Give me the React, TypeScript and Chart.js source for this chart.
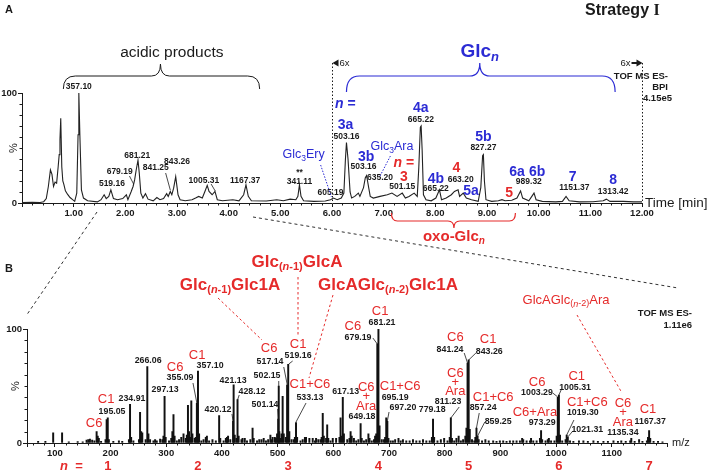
import React, { useEffect, useRef } from 'react';
import { Chart, registerables } from 'chart.js';

Chart.register(...registerables);

const SANS = '"Liberation Sans", Arial, Helvetica, sans-serif';
const SERIF = '"Liberation Serif", "Times New Roman", serif';
const BLUE = '#2b2bd4';
const RED = '#e52a2a';
const INK = '#1a1a1a';
const W = 708;
const H = 474;

const fnt = (size: number, bold = false, italic = false, fam = SANS) =>
  `${italic ? 'italic ' : ''}${bold ? 'bold ' : ''}${size}px ${fam}`;

// ---------------- Panel A : base peak chromatogram ----------------
const chromTime = [
  0, 0.2, 0.35, 0.42, 0.47, 0.51, 0.55, 0.58, 0.61, 0.64, 0.67, 0.7, 0.72, 0.735, 0.75, 0.77, 0.79, 0.81,
  0.84, 0.88, 0.93, 0.98, 1.02, 1.06, 1.085, 1.1, 1.12, 1.15, 1.19, 1.27, 1.46, 1.53, 1.59, 1.63, 1.68,
  1.72, 1.77, 1.85, 1.95, 2.02, 2.05, 2.11, 2.15, 2.18, 2.21, 2.245, 2.27, 2.3, 2.34, 2.39, 2.44, 2.54,
  2.61, 2.67, 2.74, 2.8, 2.83, 2.87, 2.9, 2.935, 2.975, 3.02, 3.06, 3.16, 3.29, 3.36, 3.42, 3.49, 3.54,
  3.585, 3.62, 3.68, 3.735, 3.78, 3.88, 4.08, 4.2, 4.29, 4.335, 4.38, 4.44, 4.73, 4.93, 5.06, 5.19, 5.3,
  5.34, 5.37, 5.4, 5.45, 5.65, 5.87, 5.97, 6.03, 6.1, 6.18, 6.23, 6.26, 6.28, 6.31, 6.35, 6.38, 6.44,
  6.51, 6.54, 6.61, 6.645, 6.67, 6.71, 6.74, 6.8, 6.93, 7.07, 7.16, 7.26, 7.36, 7.42, 7.49, 7.59, 7.65,
  7.68, 7.71, 7.725, 7.745, 7.77, 7.82, 7.92, 8.01, 8.08, 8.12, 8.21, 8.31, 8.37, 8.44, 8.47, 8.54, 8.6,
  8.7, 8.83, 8.88, 8.915, 8.93, 8.95, 8.98, 9.09, 9.22, 9.29, 9.35, 9.48, 9.58, 9.65, 9.69, 9.81, 9.91,
  9.95, 10.07, 10.33, 10.46, 10.53, 10.59, 10.79, 11.05, 11.25, 11.31, 11.38, 11.64, 11.84, 12,
];
const chromIntensity = [
  0.5, 0.6, 0.5, 1.2, 4, 15, 30, 26, 15, 19, 18, 33, 44, 58, 77, 33, 20, 17,
  11, 8, 5, 3, 1.5, 9, 62, 100, 62, 12, 4.5, 2, 1, 3, 7.5, 4, 6,
  12, 4, 3, 4, 7.5, 3, 10, 15, 21, 30, 39, 27, 9, 4.5, 8.5, 3.5, 2,
  5, 3, 4, 8.5, 6, 10.5, 7.5, 13.5, 24, 7.5, 3, 2, 3, 4.5, 6, 4.5, 10.5,
  16, 10.5, 7.5, 10.5, 3, 2, 3, 2, 7.5, 16.5, 6, 2, 1.8, 3, 2, 3.5, 3,
  6, 16.5, 6, 2, 1.5, 1.8, 3, 4.5, 3, 4.5, 9, 40, 55, 40, 10, 4.5, 6,
  9, 6, 14, 23, 25, 14, 6, 4.5, 6, 7.5, 9, 6, 9, 4.5, 6, 9, 6,
  32, 69, 70, 48, 7.5, 3, 2, 4.5, 12, 3, 4.5, 7.5, 10.5, 12, 6, 9, 4.5,
  3, 1.5, 14, 43, 44, 20, 3, 1.5, 2, 3, 2, 2.5, 4.5, 11, 4.5, 2, 9,
  3, 1.5, 1, 1.5, 6, 2, 1, 1.2, 2, 3.5, 1.5, 1.5, 1, 1,
];

// ---------------- Panel B : mass spectrum ----------------
const specMz = [
  70, 83, 97, 113, 125, 141, 150, 157, 160, 163, 167, 171, 175, 177, 179, 183, 191, 193, 195, 197, 205,
  215, 221, 233, 235, 237, 241, 251, 253, 255, 257, 263, 266, 268, 271, 277, 280, 283, 289, 293, 295,
  297, 299, 305, 309, 311, 313, 315, 319, 323, 327, 331, 335, 337, 339, 341, 343, 345, 347, 351, 353,
  355, 357, 359, 363, 367, 371, 373, 377, 383, 389, 395, 397, 403, 407, 409, 411, 415, 420, 421, 423,
  426, 428, 430, 435, 437, 441, 445, 451, 455, 457, 463, 467, 471, 475, 479, 483, 487, 489, 491, 495,
  497, 499, 501, 502, 503, 505, 507, 509, 511, 515, 517, 519, 521, 525, 529, 531, 533, 535, 541, 545,
  549, 551, 557, 563, 567, 569, 573, 577, 579, 581, 583, 587, 589, 591, 595, 599, 605, 611, 613, 615,
  617, 619, 625, 629, 631, 633, 637, 641, 645, 649, 651, 655, 659, 663, 665, 669, 673, 675, 677, 679,
  681, 683, 687, 691, 693, 695, 697, 699, 703, 707, 711, 717, 721, 725, 731, 737, 743, 749, 755, 761,
  767, 773, 777, 779, 781, 787, 793, 799, 805, 809, 811, 813, 817, 821, 825, 829, 833, 837, 839, 841,
  843, 845, 849, 853, 855, 857, 859, 861, 867, 873, 879, 887, 893, 899, 905, 911, 917, 923, 929, 935,
  939, 941, 947, 953, 955, 959, 965, 971, 973, 975, 981, 985, 987, 991, 997, 1001, 1003, 1005, 1007,
  1011, 1017, 1019, 1021, 1025, 1031, 1041, 1049, 1057, 1067, 1075, 1085, 1093, 1103, 1111, 1117,
  1125, 1133, 1135, 1141, 1149, 1155, 1163, 1165, 1167, 1169, 1175, 1183, 1191,
];
const specIntensity = [
  1.5, 1.5, 9, 9, 1, 1.2, 1, 2.5, 3, 3.5, 2.5, 2, 10, 6, 4, 1.5, 3, 20.5, 22, 3, 1.5,
  2, 1.5, 3, 34, 5, 2, 3, 27, 10, 9, 3, 67, 8, 3, 2, 3, 2, 3.5, 3, 6,
  41, 5, 2, 4, 10, 25, 6, 2, 3, 5, 8, 4, 7, 33, 10, 5, 37, 8, 4, 5,
  35, 63, 8, 2, 3, 5, 6, 2, 3, 2, 24, 4, 2, 4, 5, 6, 3, 19, 51, 7,
  4, 38, 6, 3, 4, 4, 2, 3, 13, 4, 2, 3, 3, 4, 2, 3, 7, 3, 5, 5,
  4, 8, 21, 50, 10, 4, 8, 41, 8, 5, 51, 69, 10, 3, 3, 5, 18, 5, 2, 3,
  5, 5, 4, 4, 2, 4, 3, 3, 5, 26, 6, 4, 16, 4, 2, 4, 4, 5, 22, 6,
  40, 8, 3, 4, 10, 6, 4, 2, 3, 17, 4, 2, 3, 8, 4, 2, 3, 6, 8, 87,
  100, 15, 3, 3, 5, 22, 19, 4, 2, 2, 3, 4, 2, 3, 2, 2, 3, 2, 2, 3,
  2, 2, 5, 21, 5, 2, 3, 4, 2, 5, 22, 4, 2, 4, 6, 2, 3, 6, 13, 70,
  73, 12, 3, 2, 5, 13, 6, 3, 2, 3, 2, 2, 1.5, 2, 2, 1.5, 2, 2, 2, 2,
  4, 3, 2, 2, 4, 2, 2, 4, 11, 3, 2, 3, 4, 2, 2, 6, 40, 42, 7,
  2, 3, 7, 5, 2, 1.5, 2, 2, 1.5, 2, 1.5, 1.5, 1.5, 2, 1.5, 2,
  1.5, 2, 4, 1.5, 3, 1.5, 2, 5, 11, 4, 1.5, 1.5, 1,
];
const seriesN = ['1', '2', '3', '4', '5', '6', '7'];
const seriesNMz = [195, 357, 519, 681, 843, 1005, 1167];

// ---------------- annotation layout (label text, x in data units, y in px) ----------------
const peakLabelsA: [string, number, number][] = [
  ['357.10', 1.1, 87], ['679.19', 1.89, 172], ['519.16', 1.74, 184], ['681.21', 2.23, 156],
  ['841.25', 2.59, 168], ['843.26', 3.0, 162], ['1005.31', 3.52, 181], ['1167.37', 4.32, 181],
  ['**', 5.37, 173], ['341.11', 5.37, 182], ['605.19', 5.97, 193], ['503.16', 6.28, 137],
  ['503.16', 6.61, 167], ['635.20', 6.93, 178], ['501.15', 7.36, 187], ['665.22', 7.72, 120],
  ['665.22', 8.01, 189], ['663.20', 8.49, 180], ['827.27', 8.93, 148], ['989.32', 9.81, 182],
  ['1151.37', 10.69, 188], ['1313.42', 11.44, 192],
];
const blueLabelsA: [string, number, number][] = [
  ['3a', 6.26, 125], ['3b', 6.66, 157], ['4a', 7.72, 108], ['4b', 8.01, 179], ['5a', 8.69, 191],
  ['5b', 8.93, 137], ['6a', 9.58, 172], ['6b', 9.97, 172], ['7', 10.66, 177], ['8', 11.44, 180],
];
const redLabelsA: [string, number, number][] = [['3', 7.39, 177], ['4', 8.41, 168], ['5', 9.43, 193]];
const leadersA: number[][] = [[2.08, 176, 2.16, 184], [2.78, 173, 2.87, 190], [3.66, 184, 3.74, 191]];
const blueDotsA: number[][] = [[5.78, 165, 5.99, 197], [7.13, 156, 6.93, 176]];

const peakLabelsB: [string, number, number][] = [
  ['195.05', 202.7, 412], ['234.91', 238.6, 399], ['266.06', 267.4, 361], ['297.13', 297.9, 390],
  ['355.09', 324.8, 378], ['357.10', 378.7, 366], ['421.13', 420, 381], ['428.12', 454, 392],
  ['420.12', 393, 410], ['517.14', 486.4, 362], ['519.16', 536.7, 356], ['502.15', 481, 376],
  ['501.14', 477.4, 405], ['533.13', 558, 398], ['617.13', 622, 392], ['649.18', 651.5, 417],
  ['679.19', 644.4, 338], ['681.21', 687.5, 323], ['695.19', 711, 398], ['697.20', 725, 408],
  ['779.18', 777.5, 410], ['841.24', 809.6, 350], ['843.26', 880, 352], ['811.23', 806, 402],
  ['857.24', 869, 408], ['859.25', 896, 422], ['1003.29', 965.7, 393], ['1005.31', 1034, 388],
  ['973.29', 975, 423], ['1019.30', 1048, 413], ['1021.31', 1056, 430], ['1135.34', 1120, 433],
  ['1167.37', 1169, 422],
];
const fragLabelsB: [string, number, number][] = [
  ['C1', 192, 399], ['C6', 170.6, 423], ['C6', 316, 367], ['C1', 355.5, 355],
  ['C6', 484.7, 348], ['C1', 536.7, 344], ['C1+C6', 558, 384], ['C6', 635, 326], ['C1', 684, 311],
  ['C6', 659, 387], ['+', 659, 396], ['Ara', 659, 406], ['C1+C6', 720, 386],
  ['C6', 819, 337], ['C1', 878, 339], ['C6', 819, 373], ['+', 819, 382], ['Ara', 819, 391],
  ['C1+C6', 887, 397], ['C6', 966, 382], ['C1', 1037, 376], ['C6+Ara', 962, 412], ['C1+C6', 1056, 402],
  ['C6', 1120, 403], ['+', 1120, 412], ['Ara', 1120, 422], ['C1', 1165, 409],
];
const leadersB: number[][] = [
  [348, 383, 355, 403], [418, 414, 420, 421], [431, 395, 428, 400], [500, 409, 501, 419],
  [502, 381, 502, 386], [511, 367, 517, 384], [527, 361, 520, 364], [551, 403, 533, 422],
  [671, 338, 679, 344], [700, 412, 697, 421], [826, 407, 811, 418], [835, 353, 841, 363],
  [856, 353, 843, 360], [862, 413, 857, 428], [872, 422, 859, 436], [994, 393, 1003, 397],
  [1009, 390, 1005, 395], [1032, 420, 1019, 435], [1030, 431, 1021, 437],
];

// ---------------- drawing helpers ----------------
type Seg = [string, string, number?];
function rich(ctx: CanvasRenderingContext2D, segs: Seg[], x: number, y: number, color: string, align = 'center') {
  let w = 0;
  for (const s of segs) { ctx.font = s[1]; w += ctx.measureText(s[0]).width; }
  let cx = align === 'center' ? x - w / 2 : align === 'right' ? x - w : x;
  ctx.fillStyle = color;
  ctx.textAlign = 'left';
  ctx.textBaseline = 'middle';
  for (const s of segs) {
    ctx.font = s[1];
    ctx.fillText(s[0], cx, y + (s[2] || 0));
    cx += ctx.measureText(s[0]).width;
  }
}
function txt(ctx: CanvasRenderingContext2D, s: string, x: number, y: number, font: string, color: string, align = 'center') {
  rich(ctx, [[s, font]], x, y, color, align);
}
function seg(ctx: CanvasRenderingContext2D, x1: number, y1: number, x2: number, y2: number, color: string, width = 1, dash: number[] = []) {
  ctx.beginPath();
  ctx.setLineDash(dash);
  ctx.strokeStyle = color;
  ctx.lineWidth = width;
  ctx.moveTo(x1, y1);
  ctx.lineTo(x2, y2);
  ctx.stroke();
  ctx.setLineDash([]);
}
function brace(ctx: CanvasRenderingContext2D, x1: number, x2: number, xm: number, yEnd: number, yLine: number, yTip: number, rEnd: number, rTip: number, color: string, width = 1) {
  ctx.beginPath();
  ctx.strokeStyle = color;
  ctx.lineWidth = width;
  ctx.moveTo(x1, yEnd);
  ctx.quadraticCurveTo(x1, yLine, x1 + rEnd, yLine);
  ctx.lineTo(xm - rTip, yLine);
  ctx.quadraticCurveTo(xm, yLine, xm, yTip);
  ctx.quadraticCurveTo(xm, yLine, xm + rTip, yLine);
  ctx.lineTo(x2 - rEnd, yLine);
  ctx.quadraticCurveTo(x2, yLine, x2, yEnd);
  ctx.stroke();
}
function tri(ctx: CanvasRenderingContext2D, pts: number[], color: string) {
  ctx.beginPath();
  ctx.fillStyle = color;
  ctx.moveTo(pts[0], pts[1]);
  for (let i = 2; i < pts.length; i += 2) ctx.lineTo(pts[i], pts[i + 1]);
  ctx.closePath();
  ctx.fill();
}
function glcSub(base: string, sub: string, tail: string, size: number, subSize: number, bold: boolean, dy: number): Seg[] {
  const segs: Seg[] = [[base, fnt(size, bold)]];
  if (sub) {
    const m = sub.split('n');
    segs.push([m[0], fnt(subSize, bold), dy]);
    segs.push(['n', fnt(subSize, bold, true), dy]);
    segs.push([m[1], fnt(subSize, bold), dy]);
  }
  if (tail) segs.push([tail, fnt(size, bold)]);
  return segs;
}

// ---------------- plugins ----------------
const annotA = {
  id: 'annotA',
  afterDraw(chart: any) {
    const ctx: CanvasRenderingContext2D = chart.ctx;
    const xs = chart.scales.x;
    const ys = chart.scales.y;
    const X = (t: number) => xs.getPixelForValue(t);
    const Y = (v: number) => ys.getPixelForValue(v);
    const bottom = ys.bottom;
    const left = xs.left;
    ctx.save();
    ctx.beginPath();
    ctx.strokeStyle = INK;
    ctx.lineWidth = 1;
    for (let k = 1; k < 60; k++) {
      if (k % 5 === 0) continue;
      const x = Math.round(X(k * 0.2)) + 0.5;
      ctx.moveTo(x, bottom);
      ctx.lineTo(x, bottom + 2.5);
    }
    for (let k = 1; k < 10; k++) {
      const y = Math.round(Y(k * 10)) + 0.5;
      ctx.moveTo(left, y);
      ctx.lineTo(left - 2.5, y);
    }
    ctx.stroke();
    ctx.save();
    ctx.translate(14, (Y(0) + Y(100)) / 2);
    ctx.rotate(-Math.PI / 2);
    txt(ctx, '%', 0, 0, fnt(11), INK);
    ctx.restore();

    txt(ctx, 'A', 5, 10, fnt(11, true), INK, 'left');
    rich(ctx, [['Strategy ', fnt(16, true)], ['I', fnt(16, true, false, SERIF)]], 585, 11, INK, 'left');

    brace(ctx, X(0.8), X(4.6), X(2.68), 89, 76, 64, 12, 9, INK, 1);
    txt(ctx, 'acidic products', X(2.9), 53, fnt(15.5), INK);

    brace(ctx, X(6.28), X(11.48), X(8.86), 92, 76, 63, 13, 10, BLUE, 1.2);
    rich(ctx, [['Glc', fnt(19, true)], ['n', fnt(13, true, true), 5]], X(8.86), 52, BLUE);

    const x6 = Math.round(X(6)) + 0.5;
    const x12 = Math.round(X(12)) + 0.5;
    seg(ctx, x6, 63, x6, bottom, INK, 1, [1.5, 2]);
    seg(ctx, x12, 63, x12, bottom, INK, 1, [1.5, 2]);
    tri(ctx, [x6, 63, x6 + 6, 59.5, x6 + 6, 66.5], INK);
    txt(ctx, '6x', x6 + 7, 63, fnt(9.5), INK, 'left');
    seg(ctx, x12 - 11, 63, x12 - 5, 63, INK, 2);
    tri(ctx, [x12, 63, x12 - 6, 59.5, x12 - 6, 66.5], INK);
    txt(ctx, '6x', x12 - 12, 63, fnt(9.5), INK, 'right');

    txt(ctx, 'TOF MS ES-', 668, 76, fnt(9.5, true), INK, 'right');
    txt(ctx, 'BPI', 668, 87, fnt(9.5, true), INK, 'right');
    txt(ctx, '4.15e5', 672, 98, fnt(9.5, true), INK, 'right');
    txt(ctx, 'Time [min]', 645, 203, fnt(13.5), INK, 'left');

    for (const [s, t, y] of peakLabelsA) txt(ctx, s, X(t), y, fnt(8.5, true), INK);
    for (const l of leadersA) seg(ctx, X(l[0]), l[1], X(l[2]), l[3], INK, 0.8);
    for (const l of blueDotsA) seg(ctx, X(l[0]), l[1], X(l[2]), l[3], BLUE, 1, [1.5, 1.5]);
    for (const [s, t, y] of blueLabelsA) txt(ctx, s, X(t), y, fnt(14, true), BLUE);
    for (const [s, t, y] of redLabelsA) txt(ctx, s, X(t), y, fnt(14, true), RED);
    rich(ctx, [['n', fnt(14, true, true)], [' =', fnt(14, true)]], X(6.26), 104, BLUE);
    rich(ctx, [['n', fnt(14, true, true)], [' =', fnt(14, true)]], X(7.39), 163, RED);
    rich(ctx, [['Glc', fnt(12.5)], ['3', fnt(8.5), 4], ['Ery', fnt(12.5)]], X(5.45), 155, BLUE);
    rich(ctx, [['Glc', fnt(12.5)], ['3', fnt(8.5), 4], ['Ara', fnt(12.5)]], X(7.16), 147, BLUE);

    brace(ctx, X(7.15), X(9.55), X(8.36), 213, 221, 228, 6, 6, RED, 1.2);
    rich(ctx, [['oxo-Glc', fnt(15, true)], ['n', fnt(10, true, true), 4]], X(8.36), 237, RED);
    ctx.restore();
  },
};

const annotB = {
  id: 'annotB',
  afterDraw(chart: any) {
    const ctx: CanvasRenderingContext2D = chart.ctx;
    const xs = chart.scales.x;
    const ys = chart.scales.y;
    const X = (m: number) => xs.getPixelForValue(m);
    const Y = (v: number) => ys.getPixelForValue(v);
    const bottom = ys.bottom;
    const left = xs.left;
    ctx.save();
    ctx.beginPath();
    ctx.strokeStyle = INK;
    ctx.lineWidth = 1;
    for (let m = 60; m < 1200; m += 20) {
      if (m % 100 === 0) continue;
      const x = Math.round(X(m)) + 0.5;
      ctx.moveTo(x, bottom);
      ctx.lineTo(x, bottom + 2.5);
    }
    for (let k = 1; k < 10; k++) {
      const y = Math.round(Y(k * 10)) + 0.5;
      ctx.moveTo(left, y);
      ctx.lineTo(left - 2.5, y);
    }
    ctx.stroke();
    ctx.save();
    ctx.translate(16, (Y(0) + Y(100)) / 2);
    ctx.rotate(-Math.PI / 2);
    txt(ctx, '%', 0, 0, fnt(11), INK);
    ctx.restore();

    txt(ctx, 'B', 5, 269, fnt(11, true), INK, 'left');

    seg(ctx, 97, 212, 26, 316, INK, 0.9, [3, 3]);
    seg(ctx, 253, 217, 678, 288, INK, 0.9, [3, 3]);

    rich(ctx, glcSub('Glc', '(n-1)', 'GlcA', 17, 11, true, 5), 297, 262, RED);
    rich(ctx, glcSub('Glc', '(n-1)', 'Glc1A', 17, 11, true, 5), 230, 285, RED);
    rich(ctx, glcSub('GlcAGlc', '(n-2)', 'Glc1A', 17, 11, true, 5), 388, 285, RED);
    rich(ctx, glcSub('GlcAGlc', '(n-2)', 'Ara', 13, 9, false, 4), 566, 300, RED);
    seg(ctx, 218, 298, 262, 340, RED, 1, [2.5, 2.5]);
    seg(ctx, 298, 277, 298, 335, RED, 1, [2.5, 2.5]);
    seg(ctx, 333, 295, 309, 378, RED, 1, [2.5, 2.5]);
    seg(ctx, 577, 315, 622, 393, RED, 1, [2.5, 2.5]);

    txt(ctx, 'TOF MS ES-', 692, 313, fnt(9.5, true), INK, 'right');
    txt(ctx, '1.11e6', 692, 325, fnt(9.5, true), INK, 'right');
    txt(ctx, 'm/z', 672, 443, fnt(11), INK, 'left');

    for (const [s, m, y] of peakLabelsB) txt(ctx, s, X(m), y, fnt(8.8, true), INK);
    for (const l of leadersB) seg(ctx, X(l[0]), l[1], X(l[2]), l[3], INK, 0.8);
    for (const [s, m, y] of fragLabelsB) txt(ctx, s, X(m), y, fnt(13), RED);

    rich(ctx, [['n', fnt(13, true, true)], ['  =', fnt(13, true)]], 60, 466, RED, 'left');
    seriesN.forEach((s, i) => txt(ctx, s, X(seriesNMz[i]), 466, fnt(13, true), RED));
    ctx.restore();
  },
};

function axisCommon(extra: any) {
  return {
    border: { display: true, color: INK, width: 1 },
    grid: { display: true, drawOnChartArea: false, drawTicks: true, tickLength: 4, color: INK, lineWidth: 1 },
    ...extra,
  };
}

export default function App() {
  const refA = useRef<HTMLCanvasElement>(null);
  const refB = useRef<HTMLCanvasElement>(null);

  useEffect(() => {
    Chart.defaults.font.family = SANS;
    const tickFont = { size: 9.5, weight: 'bold' as const };
    const chartA = new Chart(refA.current as HTMLCanvasElement, {
      type: 'line',
      data: {
        datasets: [{
          data: chromTime.map((t, i) => ({ x: t, y: chromIntensity[i] })),
          borderColor: '#222', borderWidth: 1.1, pointRadius: 0, tension: 0, fill: false,
        }],
      },
      options: {
        animation: false, responsive: false, maintainAspectRatio: false, events: [],
        layout: { padding: { left: 0, right: W - 642, top: 93, bottom: H - 203 - 20 } },
        plugins: { legend: { display: false }, tooltip: { enabled: false } },
        scales: {
          x: axisCommon({
            type: 'linear', min: 0, max: 12,
            afterFit: (s: any) => { s.height = 20; },
            ticks: { stepSize: 1, autoSkip: false, maxRotation: 0, padding: 1, color: INK, font: tickFont,
              callback: (v: any) => (v === 0 ? '' : Number(v).toFixed(2)) },
          }),
          y: axisCommon({
            min: 0, max: 100,
            afterFit: (s: any) => { s.width = 22; },
            ticks: { stepSize: 100, padding: 1, color: INK, font: tickFont, callback: (v: any) => String(v) },
          }),
        },
      } as any,
      plugins: [annotA as any],
    });

    const chartB = new Chart(refB.current as HTMLCanvasElement, {
      type: 'bar',
      data: {
        datasets: [{
          data: specMz.map((m, i) => ({ x: m, y: specIntensity[i] })) as any,
          backgroundColor: '#111', borderWidth: 0, barThickness: 1.3, grouped: false,
        }],
      },
      options: {
        animation: false, responsive: false, maintainAspectRatio: false, events: [],
        layout: { padding: { left: 0, right: W - 667.5, top: 329, bottom: H - 443 - 20 } },
        plugins: { legend: { display: false }, tooltip: { enabled: false } },
        scales: {
          x: axisCommon({
            type: 'linear', min: 50, max: 1200, offset: false,
            afterFit: (s: any) => { s.height = 20; },
            grid: { display: true, offset: false, drawOnChartArea: false, drawTicks: true, tickLength: 4, color: INK, lineWidth: 1 },
            ticks: { stepSize: 100, autoSkip: false, maxRotation: 0, padding: 1, color: INK, font: tickFont,
              callback: (v: any) => (v % 100 === 0 && v < 1200 ? String(v) : '') },
          }),
          y: axisCommon({
            min: 0, max: 100,
            afterFit: (s: any) => { s.width = 27; },
            ticks: { stepSize: 100, padding: 1, color: INK, font: tickFont, callback: (v: any) => String(v) },
          }),
        },
      } as any,
      plugins: [annotB as any],
    });

    return () => { chartA.destroy(); chartB.destroy(); };
  }, []);

  const cs: React.CSSProperties = { position: 'absolute', left: 0, top: 0, width: W, height: H };
  return (
    <div style={{ position: 'fixed', left: 0, top: 0, width: W, height: H, background: '#fff', overflow: 'hidden' }}>
      <canvas ref={refA} width={W} height={H} style={cs} />
      <canvas ref={refB} width={W} height={H} style={cs} />
    </div>
  );
}
